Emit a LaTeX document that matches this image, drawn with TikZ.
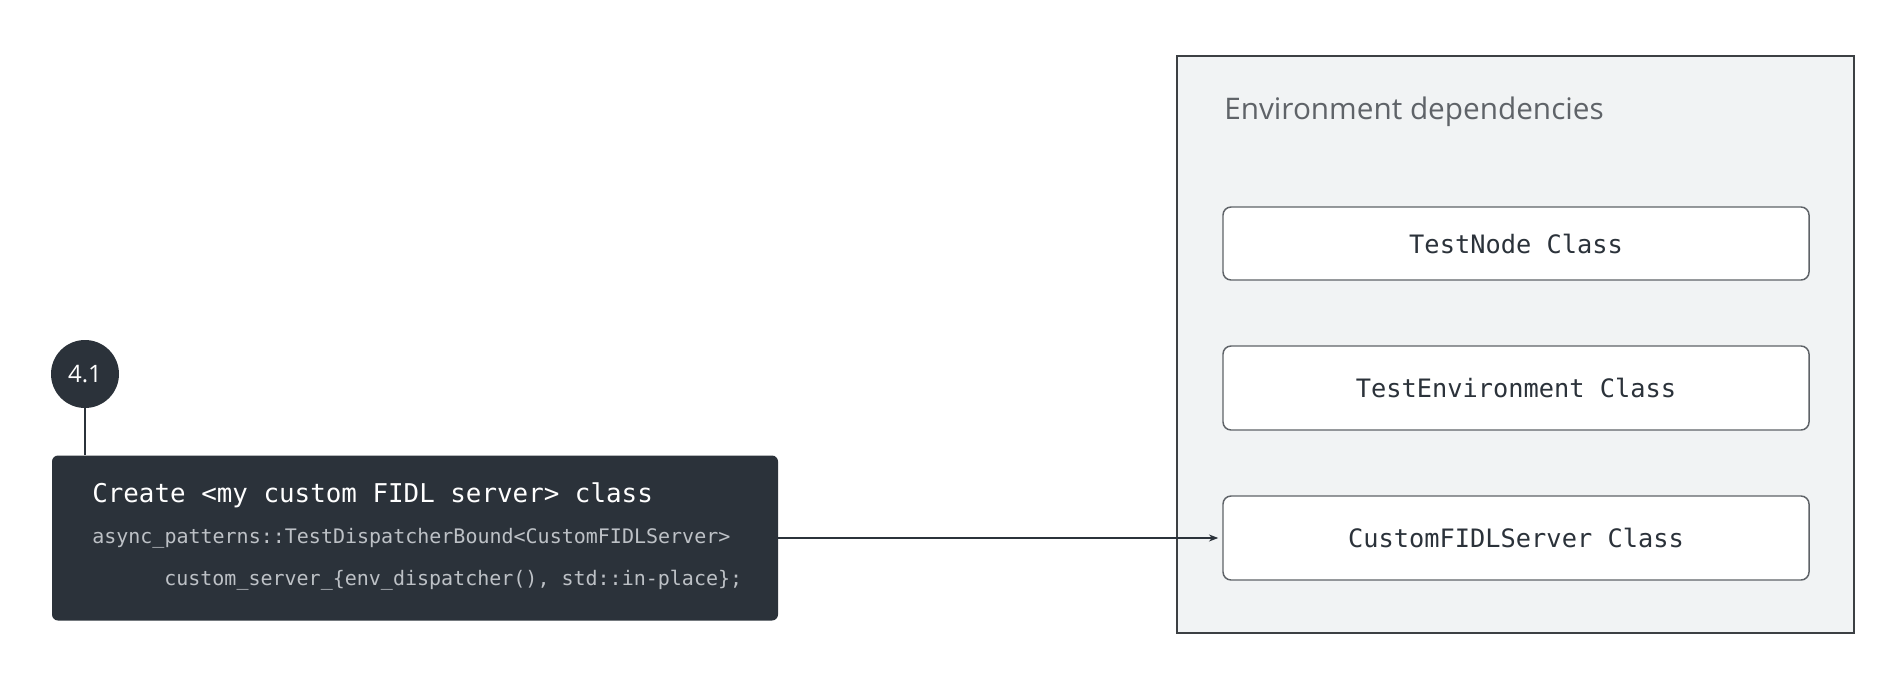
\documentclass[tikz,border=0pt]{standalone}
\usepackage{fontspec}
\setmainfont{Open Sans}
\newfontfamily\codefont{DejaVu Sans Mono}
\usepackage{tikz}
\usetikzlibrary{arrows.meta}
\definecolor{darkbg}{HTML}{2B323A}
\definecolor{envfill}{HTML}{F1F3F4}
\definecolor{envline}{HTML}{3C4043}
\definecolor{boxline}{HTML}{5F6368}
\definecolor{codegray}{HTML}{BDC1C6}
\definecolor{titlegray}{HTML}{5F6368}
\tikzset{stepdot/.style={circle, fill=darkbg, text=white, minimum size=51pt, inner sep=0pt, font=\fontsize{18}{18}\selectfont}}
\tikzset{codebox/.style={rectangle, rounded corners=4.5pt, fill=darkbg, minimum width=544.5pt, minimum height=123.75pt}}
\tikzset{envbox/.style={rectangle, draw=envline, line width=1.5pt, fill=envfill, minimum width=507.75pt, minimum height=432.75pt}}
\tikzset{classbox/.style={rectangle, rounded corners=6pt, draw=boxline, line width=1.1pt, fill=white, minimum width=439.5pt, text=darkbg, font=\codefont\fontsize{19}{19}\selectfont}}
\tikzset{codeline/.style={anchor=base west, inner sep=0pt, text=codegray, font=\codefont\fontsize{15}{15}\selectfont}}

\begin{document}
\begin{tikzpicture}[x=0.75pt, y=-0.75pt]
		\useasboundingbox (0,0) rectangle (1904,692);
		\node[envbox] at (1515.5,344.5) (env) {};
		\node[anchor=base west, inner sep=0pt, text=titlegray, font=\fontsize{22.3}{22.3}\selectfont] at (1224,120) (envtitle) {Environment dependencies};
		\node[classbox, minimum height=54.75pt] at (1516,243.5) (testnode) {TestNode Class};
		\node[classbox, minimum height=63pt] at (1516,388) (testenv) {TestEnvironment Class};
		\node[classbox, minimum height=63pt] at (1516,538) (customsrv) {CustomFIDLServer Class};

		\node[codebox] at (415,538) (create) {};
		\node[codeline, text=white, font=\codefont\fontsize{19.4}{19.4}\selectfont] at (92,502) (createtitle) {Create <my custom FIDL server> class};
		\node[codeline] at (92,543) (bound) {async\_patterns::TestDispatcherBound<CustomFIDLServer>};
		\node[codeline] at (164,585) (instance) {custom\_server\_\{env\_dispatcher(), std::in-place\};};
		\node[stepdot] at (85,374) (step41) {4.1};

		\draw[darkbg, line width=1.2pt] (step41) -- (create.north -| step41);
		\draw[-{Stealth[length=7pt]}, darkbg, line width=1.2pt, shorten >=3pt] (create) -- (customsrv);
\end{tikzpicture}
\end{document}
